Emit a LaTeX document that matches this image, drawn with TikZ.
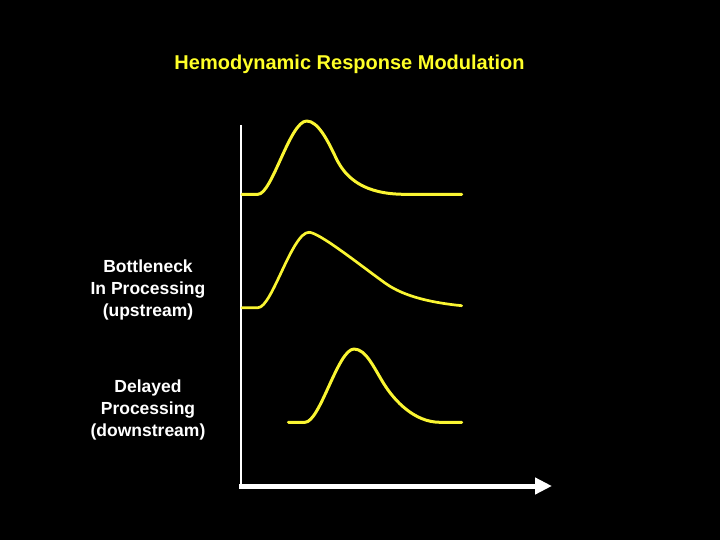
\documentclass[tikz,border=0pt]{standalone}
\usepackage{fontspec}
\setmainfont{Liberation Sans}
\usetikzlibrary{arrows.meta}
\definecolor{ttl}{RGB}{255,255,40}
\definecolor{crv}{RGB}{250,245,50}
\tikzset{
  curve/.style={draw=crv,line width=3pt,line cap=round,line join=round},
  lbl/.style={text=white,font=\fontsize{17.5}{22}\selectfont\bfseries,align=center,inner sep=0pt},
}
\begin{document}
\begin{tikzpicture}[x=1pt,y=-1pt]
\fill[black] (0,0) rectangle (720,540);
\useasboundingbox (0,0) rectangle (720,540);
\node[text=ttl,font=\fontsize{20}{22}\selectfont\bfseries,inner sep=0pt] (title) at (349.5,64) {Hemodynamic Response Modulation};
\node[lbl] (up) at (148,290) {Bottleneck\\In Processing\\(upstream)};
\node[lbl] (down) at (148,410) {Delayed\\Processing\\(downstream)};
\coordinate (ytop) at (241,125);
\coordinate (orig) at (241,487);
\coordinate (xend) at (552,486);
\draw[white,line width=1.6pt] (ytop) -- (orig);
\draw[white,line width=5pt,-{Triangle[length=17pt,width=16pt]}] (239,486) -- (xend);
% curve 1
\draw[curve] (242,194.3) -- (258,194.3)
  .. controls (272,194.3) and (290,121) .. (306.7,121)
  .. controls (318,121) and (328,141) .. (336,158)
  .. controls (346,179) and (365,194.3) .. (405,194.3) -- (461.7,194.3);
% curve 2
\draw[curve,line width=2.7pt] (242,307.7) -- (258,307.7)
  .. controls (272,307.7) and (292,232.3) .. (309,232.3)
  .. controls (319,232.3) and (360,265) .. (385,283)
  .. controls (405,297.5) and (435,303) .. (461.7,305.7);
% curve 3
\draw[curve] (288.3,422.3) -- (305,422.3)
  .. controls (320,422.3) and (338,349) .. (354,349)
  .. controls (366,349) and (374,368) .. (384,384)
  .. controls (395,401.6) and (415,422.3) .. (440,422.3) -- (461.7,422.3);
\end{tikzpicture}
\end{document}
